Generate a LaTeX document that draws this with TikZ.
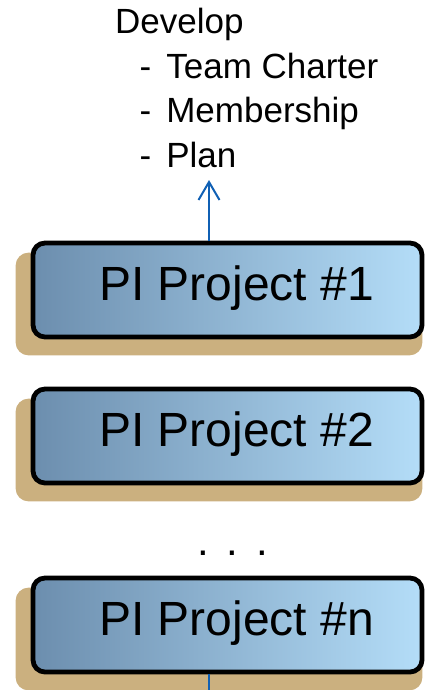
\documentclass[tikz,border=0pt]{standalone}
\usepackage{fontspec}
\setmainfont{Liberation Sans}
\usetikzlibrary{arrows.meta,backgrounds,calc}
\definecolor{boxL}{RGB}{108,142,174}
\definecolor{boxR}{RGB}{180,221,248}
\definecolor{shadowc}{RGB}{203,176,127}
\definecolor{linkblue}{RGB}{16,96,180}
\tikzset{
  pibox/.style={draw=black, line width=4.8pt, rounded corners=12pt,
    left color=boxL, right color=boxR,
    minimum width=389pt, minimum height=94pt, inner sep=0pt,
    text height=35pt, text depth=15pt,
    font=\fontsize{48}{58}\selectfont},
  pishadow/.style={fill=shadowc, rounded corners=13pt},
  link/.style={draw=linkblue, line width=2pt},
  linkarrow/.style={link, -{Straight Barb[length=18pt,width=21pt,line width=2pt]}}
}
\begin{document}
\begin{tikzpicture}[x=1pt,y=-1pt]
\useasboundingbox (0,0) rectangle (424,690);
\node[anchor=north west, align=left, inner sep=0pt,
      font=\fontsize{35}{44.7}\selectfont] (dev) at (115,7.8)
  {Develop\\
   \hspace*{24.5pt}-\hspace{15pt}Team Charter\\
   \hspace*{24.5pt}-\hspace{15pt}Membership\\
   \hspace*{24.5pt}-\hspace{15pt}Plan};
\node[pibox] (b1) at (227.5,290) {\hspace*{18pt}PI Project \#1};
\node[pibox] (b2) at (227.5,436) {\hspace*{18pt}PI Project \#2};
\node[pibox] (bn) at (227.5,625) {\hspace*{18pt}PI Project \#n};
\node[anchor=base west, inner sep=0pt, font=\fontsize{42}{50}\selectfont] (dots) at (197,555)
  {.\hskip17.8pt.\hskip17.8pt.};
\begin{scope}[on background layer]
  \foreach \b in {b1,b2,bn}{
    \fill[pishadow] ([shift={(-15,16)}]\b.south west) rectangle ([shift={(-2,12)}]\b.north east);
  }
\end{scope}
\coordinate (tip) at (209,180);
\coordinate (bottomend) at (209,690);
\draw[linkarrow] (b1.north -| tip) -- (tip);
\draw[link] (bn.south -| bottomend) -- (bottomend);
\end{tikzpicture}
\end{document}
